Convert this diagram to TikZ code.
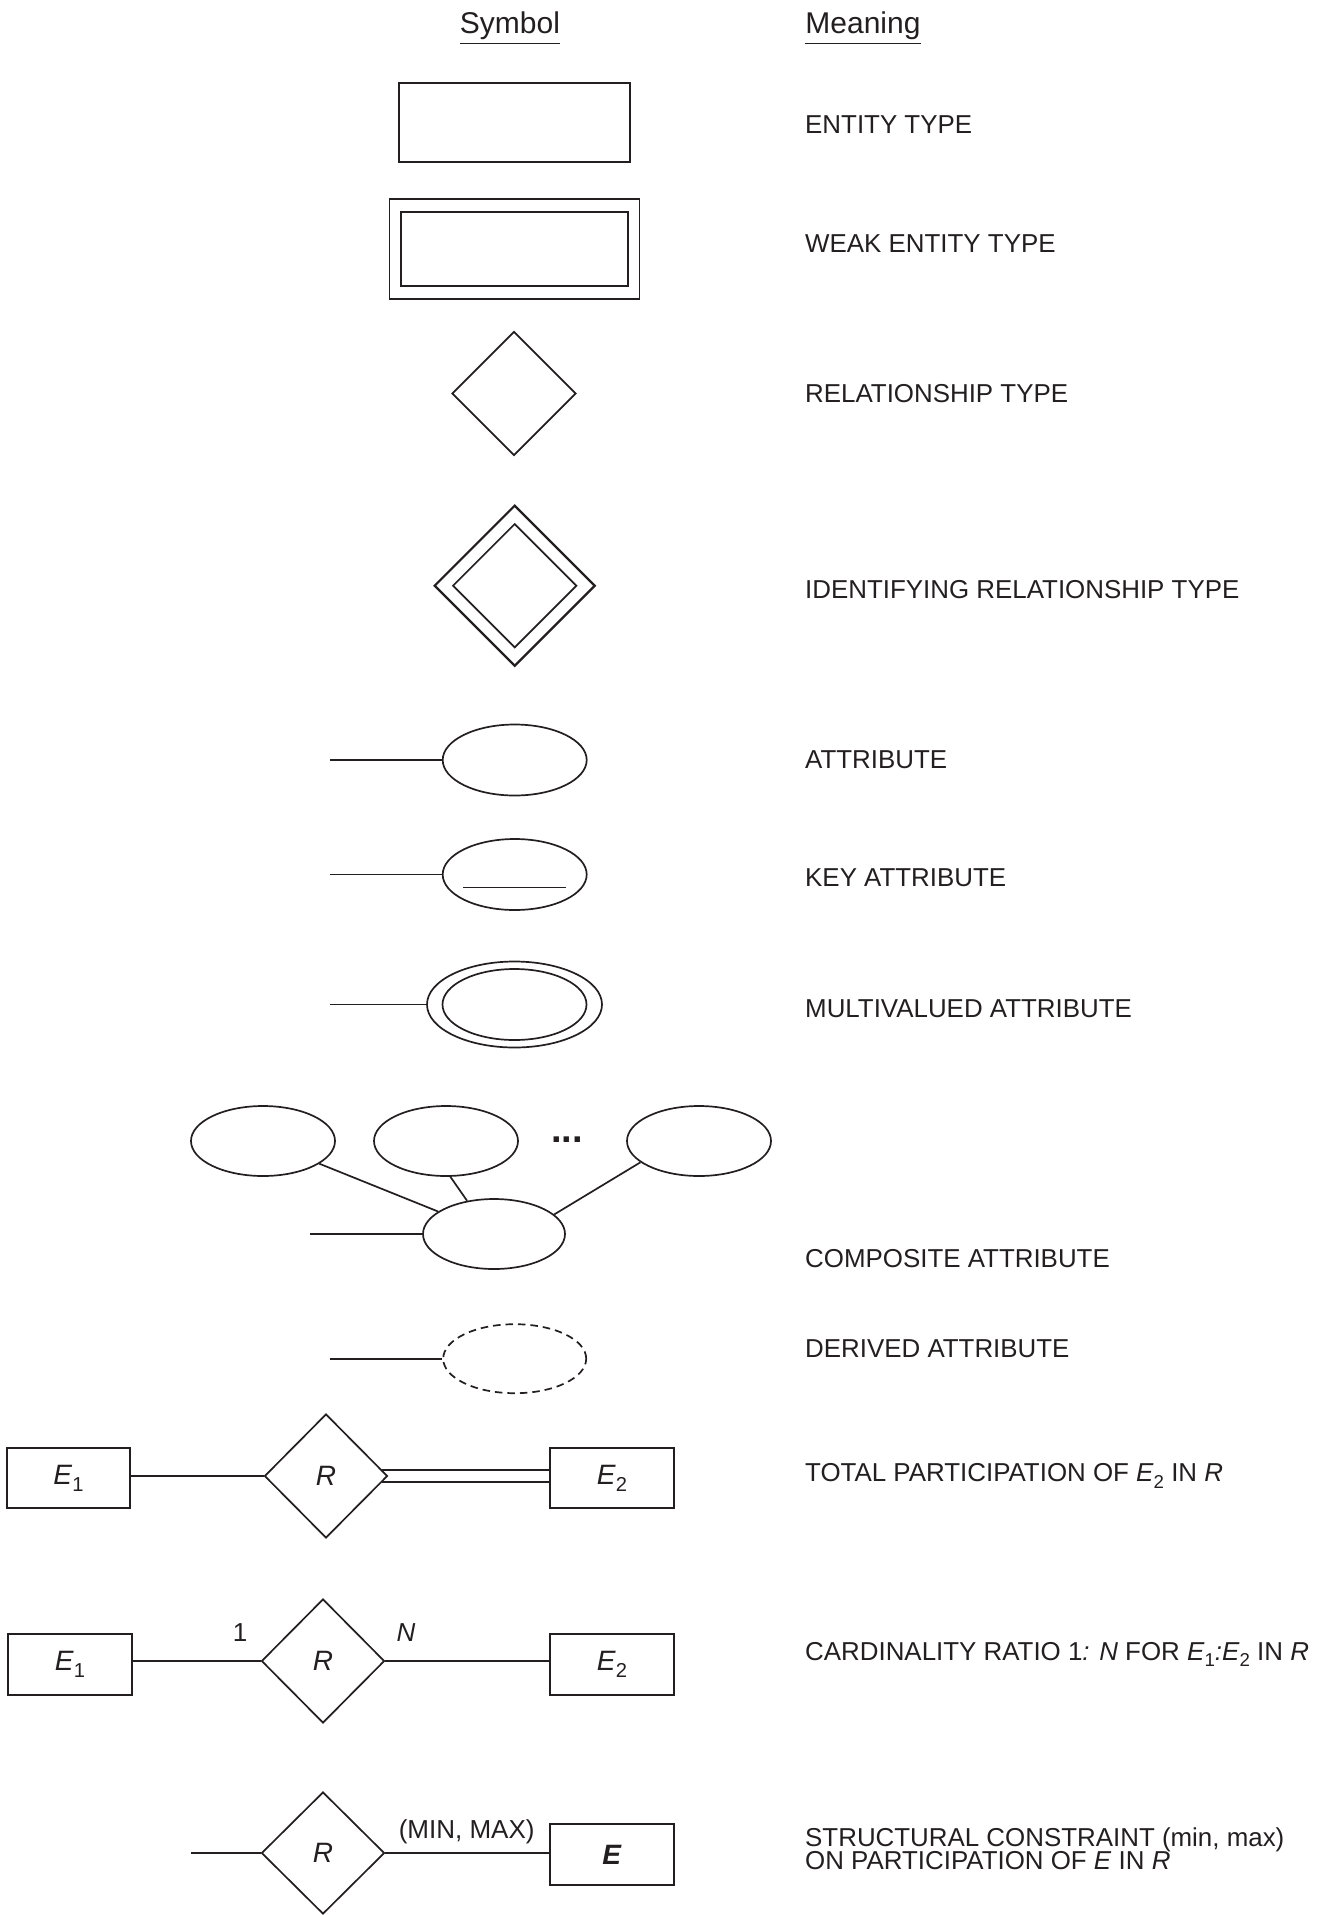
\documentclass[tikz,border=0pt]{standalone}
\usepackage{fontspec}
\setmainfont{Liberation Sans}
\usepackage{graphicx}
\usetikzlibrary{shapes.geometric,calc}
\definecolor{inkc}{HTML}{231F20}
\newcommand{\lowsub}[1]{\raisebox{-0.26em}{\scalebox{0.72}{#1}}}
\begin{document}
\begin{tikzpicture}[x=1pt,y=-1pt,
  every node/.style={text=inkc},
  lw/.style={draw=inkc, line width=1.7pt},
  box/.style={lw, rectangle, inner sep=0pt},
  rel/.style={lw, diamond, inner sep=0pt},
  att/.style={lw, ellipse, inner sep=0pt},
  txt/.style={font=\fontsize{25.9}{30}\selectfont, anchor=base west, inner sep=0pt},
  hdr/.style={font=\fontsize{30}{36}\selectfont, anchor=base, inner sep=0pt},
  lbl/.style={font=\fontsize{28}{32}\selectfont},
  sml/.style={font=\fontsize{26}{30}\selectfont, anchor=base, inner sep=0pt}
]
\useasboundingbox (0,0) rectangle (1338,1915);

% headers
\node[hdr] (hsym) at (510,33.3) {Symbol};
\node[hdr] (hmean) at (863,33.3) {Meaning};
\draw[lw] ([yshift=-3.7pt]hsym.south west) -- ([yshift=-3.7pt]hsym.south east);
\draw[lw] ([yshift=-3.7pt]hmean.south west) -- ([yshift=-3.7pt]hmean.south east);

% entity type
\node[box, minimum width=231, minimum height=79] (ent) at (514.5,122.5) {};
% weak entity type
\node[box, minimum width=250, minimum height=100] (wko) at (514.5,249) {};
\node[box, minimum width=227, minimum height=74] (wki) at (514.5,249) {};
% relationship type
\node[rel, minimum width=124, minimum height=124] (rt) at (514,393.5) {};
% identifying relationship type
\node[rel, line width=2.2pt, minimum width=161, minimum height=161] (ido) at (514.7,585.7) {};
\node[rel, minimum width=124, minimum height=124] (idi) at (514.7,585.7) {};

% attribute
\node[att, minimum width=144, minimum height=71] (at) at (514.7,760) {};
\coordinate (atf) at (330,760);
\draw[lw] (atf) -- (at.west);
% key attribute
\node[att, minimum width=144, minimum height=71] (ka) at (514.7,874.5) {};
\coordinate (kaf) at (330,874.5);
\draw[lw] (kaf) -- (ka.west);
\draw[lw] ([xshift=-51.5pt,yshift=-13pt]ka.center) -- ([xshift=51.5pt,yshift=-13pt]ka.center);
% multivalued attribute
\node[att, minimum width=175, minimum height=86] (mvo) at (514.5,1004.5) {};
\node[att, minimum width=144, minimum height=71] (mvi) at (514.5,1004.5) {};
\coordinate (mvf) at (330,1004.5);
\draw[lw] (mvf) -- (mvo.west);

% composite attribute
\node[att, minimum width=144, minimum height=70] (c1) at (263,1141) {};
\node[att, minimum width=144, minimum height=70] (c2) at (446,1141) {};
\node[att, minimum width=144, minimum height=70] (c3) at (699,1141) {};
\node[att, minimum width=142, minimum height=70] (cb) at (494,1234) {};
\node[anchor=base, inner sep=0pt, font=\fontsize{38}{40}\selectfont\bfseries] (dots) at (567,1142) {...};
\coordinate (cbf) at (310,1234);
\draw[lw] (cbf) -- (cb.west);
\draw[lw] (c1) -- (cb);
\draw[lw] (c2.-83) -- (cb.129.5);
\draw[lw] (c3.200) -- (cb.18);

% derived attribute
\node[att, dash pattern=on 7.5pt off 5pt, minimum width=143, minimum height=69] (da) at (514.7,1358.7) {};
\coordinate (daf) at (330,1358.7);
\draw[lw] (daf) -- (da.west);

% total participation
\node[box, lbl, minimum width=123, minimum height=60] (e1a) at (68.5,1478) {\textit{E}\lowsub{1}};
\node[rel, lbl, minimum width=123, minimum height=124] (r1) at (326,1476) {\textit{R}};
\node[box, lbl, minimum width=124, minimum height=60] (e2a) at (612,1478) {\textit{E}\lowsub{2}};
\draw[lw] (e1a.east |- r1.west) -- (r1.west);
\draw[lw] (r1.6.3) -- (r1.6.3 -| e2a.west);
\draw[lw] (r1.-6.3) -- (r1.-6.3 -| e2a.west);

% cardinality ratio
\node[box, lbl, minimum width=124, minimum height=61] (e1b) at (70,1664.5) {\textit{E}\lowsub{1}};
\node[rel, lbl, minimum width=123, minimum height=124] (r2) at (323,1661) {\textit{R}};
\node[box, lbl, minimum width=124, minimum height=61] (e2b) at (612,1664.5) {\textit{E}\lowsub{2}};
\draw[lw] (e1b.east |- r2.west) -- (r2.west);
\draw[lw] (r2.east) -- (r2.east -| e2b.west);
\node[sml] (one) at (240,1641) {1};
\node[sml] (enn) at (406,1641) {\textit{N}};

% structural constraint
\node[rel, lbl, minimum width=123, minimum height=122] (r3) at (323,1853) {\textit{R}};
\node[box, lbl, minimum width=124, minimum height=61] (e3) at (612,1854.7) {\textbf{\textit{E}}};
\coordinate (r3f) at (190.6,1853);
\draw[lw] (r3f) -- (r3.west);
\draw[lw] (r3.east) -- (r3.east -| e3.west);
\node[sml] (mm) at (466.7,1838) {(MIN, MAX)};

% meanings
\node[txt] (m1) at (805,133.3) {ENTITY TYPE};
\node[txt] (m2) at (805,252.7) {WEAK ENTITY TYPE};
\node[txt] (m3) at (805,402.3) {RELATIONSHIP TYPE};
\node[txt] (m4) at (805,598.3) {IDENTIFYING RELATIONSHIP TYPE};
\node[txt] (m5) at (805,768) {ATTRIBUTE};
\node[txt] (m6) at (805,886.5) {KEY ATTRIBUTE};
\node[txt] (m7) at (805,1017) {MULTIVALUED ATTRIBUTE};
\node[txt] (m8) at (805,1267) {COMPOSITE ATTRIBUTE};
\node[txt] (m9) at (805,1357.5) {DERIVED ATTRIBUTE};
\node[txt] (m10) at (805,1481.5) {TOTAL PARTICIPATION OF \textit{E}\lowsub{2} IN \textit{R}};
\node[txt] (m11) at (805,1660) {CARDINALITY RATIO 1\textit{: N} FOR \textit{E}\lowsub{1}\textit{:E}\lowsub{2} IN \textit{R}};
\node[txt] (m12) at (805,1846) {STRUCTURAL CONSTRAINT (min, max)};
\node[txt] (m13) at (805,1869.5) {ON PARTICIPATION OF \textit{E} IN \textit{R}};
\end{tikzpicture}
\end{document}
